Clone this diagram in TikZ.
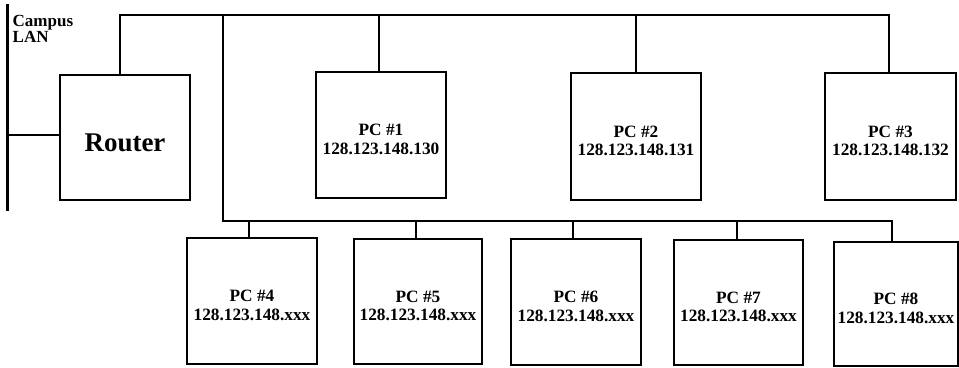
\documentclass[tikz,border=0pt]{standalone}
\usepackage{fontspec}
\setmainfont{Liberation Serif}
\newcommand{\lowr}{\rule{0pt}{20pt}}
\begin{document}
\begin{tikzpicture}[x=1pt,y=-1pt,
  box/.style={draw, line width=1.6pt, inner sep=0pt, align=center,
    font=\bfseries\fontsize{17.3}{18.5}\selectfont},
  wire/.style={line width=1.8pt},
  thickwire/.style={line width=2.6pt},
  lan/.style={line width=3pt}]
\useasboundingbox (0,0) rectangle (959,367);
% boxes
\node[box, minimum width=130pt, minimum height=125pt, font=\bfseries\fontsize{27}{30}\selectfont] (router) at (125,137.5) {\rule{0pt}{28pt}Router};
\node[box, minimum width=130pt, minimum height=126pt] (pc1) at (381,135) {\lowr PC \#1\\128.123.148.130};
\node[box, minimum width=130pt, minimum height=127pt] (pc2) at (636,136.5) {\lowr PC \#2\\128.123.148.131};
\node[box, minimum width=131pt, minimum height=127pt] (pc3) at (890.5,136.5) {\lowr PC \#3\\128.123.148.132};
\node[box, minimum width=130pt, minimum height=126pt] (pc4) at (252,301) {\lowr PC \#4\\128.123.148.xxx};
\node[box, minimum width=128pt, minimum height=125pt] (pc5) at (418,301.5) {\lowr PC \#5\\128.123.148.xxx};
\node[box, minimum width=130pt, minimum height=126pt] (pc6) at (576,302) {\lowr PC \#6\\128.123.148.xxx};
\node[box, minimum width=129pt, minimum height=125pt] (pc7) at (738.5,302.5) {\lowr PC \#7\\128.123.148.xxx};
\node[box, minimum width=124pt, minimum height=124pt] (pc8) at (896,304) {\lowr PC \#8\\128.123.148.xxx};
% campus LAN
\coordinate (lantop) at (7,4);
\coordinate (lanbot) at (7,211);
\draw[lan] (lantop) -- (lanbot);
\node[anchor=north west, inner sep=0pt, align=left,
  font=\bfseries\fontsize{17}{16}\selectfont] (lanlabel) at (12.5,15.5) {Campus\\LAN};
\draw[wire] ([yshift=2.5pt]router.west) -- ([yshift=2.5pt]router.west -| lantop);
% top bus
\coordinate (rtop) at (120,15);
\coordinate (ttop) at (889,15);
\coordinate (drop) at (223,15);
\coordinate (lbl) at (223,221);
\coordinate (lbr) at (892,221);
\draw[wire] (router.north -| rtop) -- (rtop) -- (ttop) -- (ttop |- pc3.north);
\draw[thickwire] ([xshift=-2pt]pc1.north) -- ([xshift=-2pt]pc1.north |- rtop);
\draw[thickwire] (pc2.north) -- (pc2.north |- rtop);
% lower bus
\draw[wire] (drop) -- (lbl) -- (lbr) -- (lbr |- pc8.north);
\draw[wire] ([xshift=-3pt]pc4.north) -- ([xshift=-3pt]pc4.north |- lbl);
\draw[thickwire] ([xshift=-2pt]pc5.north) -- ([xshift=-2pt]pc5.north |- lbl);
\draw[thickwire] ([xshift=-3pt]pc6.north) -- ([xshift=-3pt]pc6.north |- lbl);
\draw[thickwire] ([xshift=-1.5pt]pc7.north) -- ([xshift=-1.5pt]pc7.north |- lbl);
\end{tikzpicture}
\end{document}
